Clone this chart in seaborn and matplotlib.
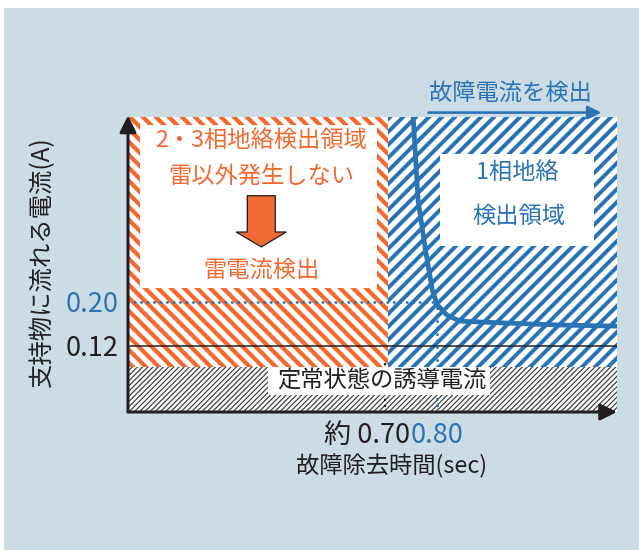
import matplotlib
matplotlib.use('Agg')
import matplotlib.pyplot as plt
import seaborn as sns
from matplotlib.patches import Rectangle, FancyArrow
from matplotlib.transforms import ScaledTranslation

# values (schematic chart, axis not to scale)
x_ticks = [0.70, 0.80]
x_tick_labels = ['約 0.70', '0.80']
x_tick_colors = ['#231f20', '#2a74b6']
y_ticks = [0.12, 0.20]
y_tick_labels = ['0.12', '0.20']
y_tick_colors = ['#231f20', '#2a74b6']

boundary_time = 0.70    # 約0.70 sec
detect_time = 0.80
detect_current = 0.20
induced_current = 0.12
steady_top = 0.082      # top of steady-state induced current band

# fault current detection curve
curve_time = [0.751, 0.761, 0.776, 0.790, 0.800, 0.820, 0.847, 0.929, 1.051, 1.167]
curve_current = [0.536, 0.385, 0.295, 0.222, 0.195, 0.176, 0.165, 0.162, 0.158, 0.156]

x_range = (0.169, 1.167)
y_range = (0.0, 0.536)

orange = '#f26a30'
blue = '#2a74b6'
dark = '#231f20'
bg = '#cbdce4'

sns.set_theme(style='white')
plt.rcParams['font.family'] = ['Noto Sans CJK JP', 'DejaVu Sans']

DPI = 78
fig = plt.figure(figsize=(639 / DPI, 550 / DPI), dpi=DPI, facecolor='white')
fig.patches.append(Rectangle((4 / 639, 0), 1, 542 / 550, transform=fig.transFigure,
                             facecolor=bg, edgecolor='none', zorder=-10))
ax = fig.add_axes([128 / 639, 138 / 550, 489 / 639, 295 / 550])
ax.set_facecolor('none')
ax.set_xlim(*x_range)
ax.set_ylim(*y_range)


def hatched(x0, x1, y0, y1, color, hatch, lw):
    with plt.rc_context({'hatch.linewidth': lw}):
        r = Rectangle((x0, y0), x1 - x0, y1 - y0, facecolor='white', edgecolor=color,
                      linewidth=0, hatch=hatch, zorder=1)
    if hasattr(r, 'set_hatch_linewidth'):
        r.set_hatch_linewidth(lw)
    ax.add_patch(r)


# zones
hatched(x_range[0], boundary_time, steady_top, y_range[1], orange, '\\\\', 3.9)
hatched(boundary_time, x_range[1], steady_top, y_range[1], blue, '//', 3.7)
hatched(x_range[0], x_range[1], 0, steady_top, '#3a3a3a', '/////', 1.1)

# guide lines
ax.axhline(induced_current, color=dark, lw=1.4, zorder=3)
ax.plot([x_range[0], detect_time], [detect_current, detect_current], color=blue,
        lw=2.6, linestyle=(0, (0.1, 2.2)), dash_capstyle='round', zorder=3)
ax.plot([detect_time, detect_time], [0, detect_current], color=blue,
        lw=2.6, linestyle=(0, (0.1, 2.2)), dash_capstyle='round', zorder=3)
ax.plot([boundary_time - 0.006, boundary_time - 0.006], [0, steady_top + 0.01], color=dark,
        lw=2.2, linestyle=(0, (0.1, 2.4)), dash_capstyle='round', zorder=3)

# detection curve
sns.lineplot(x=curve_time, y=curve_current, ax=ax, color=blue, linewidth=4.4, zorder=5)

# text boxes
ax.add_patch(Rectangle((0.194, 0.225), 0.678 - 0.194, 0.522 - 0.225, facecolor='white',
                       edgecolor='none', zorder=4))
ax.add_patch(Rectangle((0.806, 0.302), 1.120 - 0.806, 0.469 - 0.302, facecolor='white',
                       edgecolor='none', zorder=4))
ax.add_patch(Rectangle((0.455, 0.031), 0.908 - 0.455, steady_top - 0.031, facecolor='white',
                       edgecolor='none', zorder=4))

fs = 21.5
ax.text(0.441, 0.493, '2・3相地絡検出領域', color=orange, fontsize=fs, ha='center', va='center', zorder=6)
ax.text(0.441, 0.427, '雷以外発生しない', color=orange, fontsize=fs, ha='center', va='center', zorder=6)
ax.add_patch(FancyArrow(0.441, 0.393, 0, -0.093, width=0.057, head_width=0.102,
                        head_length=0.027, length_includes_head=True,
                        facecolor='#f26b35', edgecolor=dark, linewidth=1.2, zorder=6))
ax.text(0.441, 0.258, '雷電流検出', color=orange, fontsize=fs, ha='center', va='center', zorder=6)

ax.text(0.963, 0.436, '1相地絡', color=blue, fontsize=fs, ha='center', va='center', zorder=6)
ax.text(0.967, 0.355, '検出領域', color=blue, fontsize=fs, ha='center', va='center', zorder=6)

ax.text(0.686, 0.056, '定常状態の誘導電流', color=dark, fontsize=fs, ha='center', va='center', zorder=6)

ax.text(0.949, 0.578, '故障電流を検出', color=blue, fontsize=fs, ha='center', va='center',
        clip_on=False)
ax.annotate('', xy=(1.135, 0.544), xytext=(0.782, 0.544), xycoords='data',
            arrowprops=dict(arrowstyle='-|>', lw=2.4, color=blue, mutation_scale=26,
                            shrinkA=0, shrinkB=0), annotation_clip=False)

# axes arrows
for end in [(1.0, 0.0), (0.0, 1.005)]:
    ax.annotate('', xy=end, xytext=(0, 0), xycoords='axes fraction',
                arrowprops=dict(arrowstyle='-|>', lw=2.8, color=dark, mutation_scale=32,
                                shrinkA=0, shrinkB=0), annotation_clip=False, zorder=7)
for s in ax.spines.values():
    s.set_visible(False)

# ticks
ax.set_yticks(y_ticks, y_tick_labels)
ax.set_xticks(x_ticks, x_tick_labels)
ax.tick_params(axis='both', length=0, labelsize=25, pad=9)
for lbl, c in zip(ax.get_yticklabels(), y_tick_colors):
    lbl.set_color(c)
for lbl, c in zip(ax.get_xticklabels(), x_tick_colors):
    lbl.set_color(c)
first = ax.get_xticklabels()[0]
first.set_ha('right')
first.set_transform(first.get_transform() + ScaledTranslation(22 / DPI, 0, fig.dpi_scale_trans))

ax.set_ylabel('支持物に流れる電流(A)', fontsize=22.5, color=dark)
ax.yaxis.label.set(ha='center', va='center', rotation_mode='anchor')
ax.yaxis.set_label_coords(-0.176, 0.508)
ax.set_xlabel('故障除去時間(sec)', fontsize=fs, color=dark)
ax.xaxis.label.set(ha='center', va='center')
ax.xaxis.set_label_coords(0.538, -0.183)

fig.savefig('out.png', dpi=DPI, facecolor=fig.get_facecolor())
